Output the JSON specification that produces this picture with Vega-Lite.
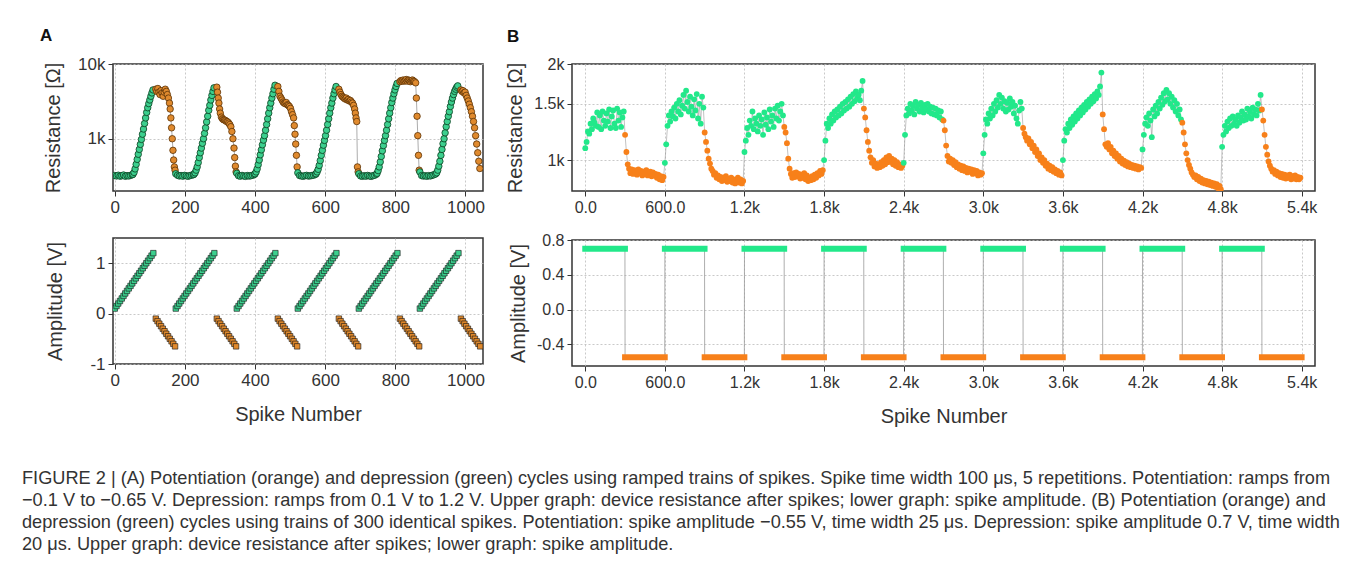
{
"$schema":"https://vega.github.io/schema/vega-lite/v6.json",
"background":"white",
"padding":{"left":22,"top":26,"right":10,"bottom":10},
"config":{
 "font":"Liberation Sans",
 "view":{"stroke":"#333","strokeWidth":1.5},
 "axis":{"labelFont":"Liberation Sans","labelFontSize":17,"labelColor":"#333","titleFont":"Liberation Sans","titleFontSize":20,"titleFontWeight":"normal","titleColor":"#333","domain":false,"tickColor":"#333","tickSize":5,"gridColor":"#bbb","gridDash":[2,2],"gridWidth":0.8,"labelPadding":3,"labelFlush":false}
},
"title":{"text":["FIGURE 2 | (A) Potentiation (orange) and depression (green) cycles using ramped trains of spikes. Spike time width 100 μs, 5 repetitions. Potentiation: ramps from","−0.1 V to −0.65 V. Depression: ramps from 0.1 V to 1.2 V. Upper graph: device resistance after spikes; lower graph: spike amplitude. (B) Potentiation (orange) and","depression (green) cycles using trains of 300 identical spikes. Potentiation: spike amplitude −0.55 V, time width 25 μs. Depression: spike amplitude 0.7 V, time width","20 μs. Upper graph: device resistance after spikes; lower graph: spike amplitude."],"orient":"bottom","anchor":"start","frame":"group","dx":-91,"offset":43,"fontSize":18.2,"fontWeight":"normal","font":"Liberation Sans","color":"#333","lineHeight":22},
"datasets":{
"aR":[
{"n":0,"r":322,"t":"d"},{"n":5,"r":318,"t":"d"},{"n":10,"r":325,"t":"d"},{"n":15,"r":316,"t":"d"},{"n":20,"r":320,"t":"d"},{"n":25,"r":327,"t":"d"},{"n":30,"r":315,"t":"d"},{"n":35,"r":321,"t":"d"},{"n":40,"r":318,"t":"d"},{"n":45,"r":324,"t":"d"},{"n":50,"r":330,"t":"d"},
{"n":52,"r":335,"t":"d"},{"n":55,"r":355,"t":"d"},{"n":58,"r":395,"t":"d"},{"n":61,"r":455,"t":"d"},{"n":64,"r":530,"t":"d"},{"n":67,"r":620,"t":"d"},{"n":70,"r":720,"t":"d"},{"n":73,"r":840,"t":"d"},{"n":76,"r":980,"t":"d"},{"n":79,"r":1150,"t":"d"},{"n":82,"r":1350,"t":"d"},{"n":85,"r":1600,"t":"d"},{"n":88,"r":1900,"t":"d"},{"n":91,"r":2250,"t":"d"},{"n":94,"r":2600,"t":"d"},{"n":97,"r":2950,"t":"d"},{"n":100,"r":3300,"t":"d"},{"n":103,"r":3700,"t":"d"},{"n":106,"r":4100,"t":"d"},{"n":109,"r":4500,"t":"d"},
{"n":117,"r":4600,"t":"p"},{"n":120,"r":4300,"t":"p"},{"n":123,"r":4700,"t":"p"},{"n":126,"r":4200,"t":"p"},{"n":129,"r":3900,"t":"p"},{"n":132,"r":4400,"t":"p"},{"n":135,"r":4100,"t":"p"},{"n":138,"r":3700,"t":"p"},{"n":141,"r":4200,"t":"p"},{"n":144,"r":4600,"t":"p"},{"n":147,"r":4300,"t":"p"},{"n":150,"r":3900,"t":"p"},{"n":153,"r":3500,"t":"p"},{"n":156,"r":3000,"t":"p"},{"n":158,"r":2500,"t":"p"},{"n":160,"r":1900,"t":"p"},{"n":162,"r":1400,"t":"p"},{"n":164,"r":1000,"t":"p"},{"n":166,"r":700,"t":"p"},{"n":168,"r":520,"t":"p"},{"n":170,"r":420,"t":"p"},{"n":172,"r":380,"t":"p"},
{"n":174,"r":340,"t":"d"},{"n":179,"r":325,"t":"d"},{"n":184,"r":318,"t":"d"},{"n":189,"r":322,"t":"d"},{"n":194,"r":316,"t":"d"},{"n":199,"r":324,"t":"d"},{"n":204,"r":319,"t":"d"},{"n":209,"r":315,"t":"d"},{"n":214,"r":321,"t":"d"},{"n":219,"r":326,"t":"d"},{"n":224,"r":330,"t":"d"},
{"n":226,"r":335,"t":"d"},{"n":229,"r":350,"t":"d"},{"n":232,"r":380,"t":"d"},{"n":235,"r":420,"t":"d"},{"n":238,"r":480,"t":"d"},{"n":241,"r":560,"t":"d"},{"n":244,"r":650,"t":"d"},{"n":247,"r":750,"t":"d"},{"n":250,"r":870,"t":"d"},{"n":253,"r":1000,"t":"d"},{"n":256,"r":1180,"t":"d"},{"n":259,"r":1400,"t":"d"},{"n":262,"r":1680,"t":"d"},{"n":265,"r":2000,"t":"d"},{"n":268,"r":2400,"t":"d"},{"n":271,"r":2800,"t":"d"},{"n":274,"r":3300,"t":"d"},{"n":277,"r":3800,"t":"d"},{"n":280,"r":4300,"t":"d"},{"n":283,"r":4800,"t":"d"},
{"n":291,"r":4900,"t":"p"},{"n":293,"r":4200,"t":"p"},{"n":295,"r":3500,"t":"p"},{"n":297,"r":3000,"t":"p"},{"n":299,"r":2500,"t":"p"},{"n":301,"r":2200,"t":"p"},{"n":304,"r":1950,"t":"p"},{"n":307,"r":1850,"t":"p"},{"n":310,"r":1800,"t":"p"},{"n":313,"r":1780,"t":"p"},{"n":316,"r":1750,"t":"p"},{"n":319,"r":1700,"t":"p"},{"n":322,"r":1680,"t":"p"},{"n":325,"r":1620,"t":"p"},{"n":328,"r":1550,"t":"p"},{"n":331,"r":1450,"t":"p"},{"n":334,"r":1250,"t":"p"},{"n":337,"r":1000,"t":"p"},{"n":340,"r":750,"t":"p"},{"n":342,"r":560,"t":"p"},{"n":344,"r":430,"t":"p"},{"n":346,"r":360,"t":"p"},
{"n":348,"r":345,"t":"d"},{"n":353,"r":320,"t":"d"},{"n":358,"r":316,"t":"d"},{"n":363,"r":323,"t":"d"},{"n":368,"r":318,"t":"d"},{"n":373,"r":314,"t":"d"},{"n":378,"r":322,"t":"d"},{"n":383,"r":317,"t":"d"},{"n":388,"r":320,"t":"d"},{"n":393,"r":325,"t":"d"},{"n":398,"r":332,"t":"d"},
{"n":400,"r":340,"t":"d"},{"n":403,"r":360,"t":"d"},{"n":406,"r":395,"t":"d"},{"n":409,"r":450,"t":"d"},{"n":412,"r":520,"t":"d"},{"n":415,"r":610,"t":"d"},{"n":418,"r":710,"t":"d"},{"n":421,"r":830,"t":"d"},{"n":424,"r":960,"t":"d"},{"n":427,"r":1100,"t":"d"},{"n":430,"r":1300,"t":"d"},{"n":433,"r":1550,"t":"d"},{"n":436,"r":1850,"t":"d"},{"n":439,"r":2200,"t":"d"},{"n":442,"r":2600,"t":"d"},{"n":445,"r":3000,"t":"d"},{"n":448,"r":3500,"t":"d"},{"n":451,"r":4000,"t":"d"},{"n":454,"r":4600,"t":"d"},{"n":457,"r":5200,"t":"d"},
{"n":465,"r":5000,"t":"p"},{"n":468,"r":4300,"t":"p"},{"n":471,"r":3700,"t":"p"},{"n":474,"r":3500,"t":"p"},{"n":477,"r":3300,"t":"p"},{"n":480,"r":3100,"t":"p"},{"n":483,"r":3000,"t":"p"},{"n":486,"r":2950,"t":"p"},{"n":489,"r":3050,"t":"p"},{"n":492,"r":2850,"t":"p"},{"n":495,"r":2800,"t":"p"},{"n":498,"r":2700,"t":"p"},{"n":501,"r":2550,"t":"p"},{"n":504,"r":2300,"t":"p"},{"n":507,"r":2100,"t":"p"},{"n":510,"r":1900,"t":"p"},{"n":512,"r":1500,"t":"p"},{"n":514,"r":1150,"t":"p"},{"n":516,"r":850,"t":"p"},{"n":518,"r":600,"t":"p"},{"n":520,"r":420,"t":"p"},
{"n":522,"r":350,"t":"d"},{"n":527,"r":322,"t":"d"},{"n":532,"r":318,"t":"d"},{"n":537,"r":315,"t":"d"},{"n":542,"r":320,"t":"d"},{"n":547,"r":324,"t":"d"},{"n":552,"r":317,"t":"d"},{"n":557,"r":319,"t":"d"},{"n":562,"r":322,"t":"d"},{"n":567,"r":326,"t":"d"},{"n":572,"r":333,"t":"d"},
{"n":574,"r":340,"t":"d"},{"n":577,"r":360,"t":"d"},{"n":580,"r":390,"t":"d"},{"n":583,"r":440,"t":"d"},{"n":586,"r":510,"t":"d"},{"n":589,"r":600,"t":"d"},{"n":592,"r":700,"t":"d"},{"n":595,"r":820,"t":"d"},{"n":598,"r":950,"t":"d"},{"n":601,"r":1100,"t":"d"},{"n":604,"r":1300,"t":"d"},{"n":607,"r":1550,"t":"d"},{"n":610,"r":1850,"t":"d"},{"n":613,"r":2200,"t":"d"},{"n":616,"r":2600,"t":"d"},{"n":619,"r":3000,"t":"d"},{"n":622,"r":3500,"t":"d"},{"n":625,"r":4000,"t":"d"},{"n":628,"r":4500,"t":"d"},{"n":631,"r":5000,"t":"d"},
{"n":639,"r":4600,"t":"p"},{"n":642,"r":4200,"t":"p"},{"n":645,"r":3900,"t":"p"},{"n":648,"r":3700,"t":"p"},{"n":651,"r":3600,"t":"p"},{"n":654,"r":3500,"t":"p"},{"n":657,"r":3400,"t":"p"},{"n":660,"r":3500,"t":"p"},{"n":663,"r":3300,"t":"p"},{"n":666,"r":3350,"t":"p"},{"n":669,"r":3200,"t":"p"},{"n":672,"r":3250,"t":"p"},{"n":675,"r":3100,"t":"p"},{"n":678,"r":3000,"t":"p"},{"n":681,"r":2800,"t":"p"},{"n":684,"r":2500,"t":"p"},{"n":686,"r":2200,"t":"p"},{"n":688,"r":1900,"t":"p"},{"n":690,"r":1700,"t":"p"},{"n":692,"r":420,"t":"p"},{"n":694,"r":360,"t":"p"},
{"n":696,"r":340,"t":"d"},{"n":701,"r":318,"t":"d"},{"n":706,"r":315,"t":"d"},{"n":711,"r":320,"t":"d"},{"n":716,"r":316,"t":"d"},{"n":721,"r":323,"t":"d"},{"n":726,"r":318,"t":"d"},{"n":731,"r":314,"t":"d"},{"n":736,"r":320,"t":"d"},{"n":741,"r":325,"t":"d"},{"n":746,"r":335,"t":"d"},
{"n":748,"r":345,"t":"d"},{"n":751,"r":375,"t":"d"},{"n":754,"r":420,"t":"d"},{"n":757,"r":490,"t":"d"},{"n":760,"r":580,"t":"d"},{"n":763,"r":690,"t":"d"},{"n":766,"r":810,"t":"d"},{"n":769,"r":950,"t":"d"},{"n":772,"r":1100,"t":"d"},{"n":775,"r":1300,"t":"d"},{"n":778,"r":1550,"t":"d"},{"n":781,"r":1850,"t":"d"},{"n":784,"r":2200,"t":"d"},{"n":787,"r":2600,"t":"d"},{"n":790,"r":3050,"t":"d"},{"n":793,"r":3500,"t":"d"},{"n":796,"r":4000,"t":"d"},{"n":799,"r":4500,"t":"d"},{"n":802,"r":5000,"t":"d"},{"n":805,"r":5500,"t":"d"},
{"n":813,"r":5800,"t":"p"},{"n":816,"r":6000,"t":"p"},{"n":819,"r":5900,"t":"p"},{"n":822,"r":6100,"t":"p"},{"n":825,"r":5900,"t":"p"},{"n":828,"r":6000,"t":"p"},{"n":831,"r":6200,"t":"p"},{"n":834,"r":5900,"t":"p"},{"n":837,"r":6100,"t":"p"},{"n":840,"r":6000,"t":"p"},{"n":843,"r":5800,"t":"p"},{"n":846,"r":6000,"t":"p"},{"n":849,"r":6100,"t":"p"},{"n":852,"r":5900,"t":"p"},{"n":855,"r":5800,"t":"p"},{"n":858,"r":5600,"t":"p"},{"n":860,"r":3500,"t":"p"},{"n":862,"r":2000,"t":"p"},{"n":864,"r":1100,"t":"p"},{"n":866,"r":600,"t":"p"},{"n":868,"r":380,"t":"p"},
{"n":870,"r":360,"t":"d"},{"n":875,"r":322,"t":"d"},{"n":880,"r":317,"t":"d"},{"n":885,"r":320,"t":"d"},{"n":890,"r":315,"t":"d"},{"n":895,"r":321,"t":"d"},{"n":900,"r":318,"t":"d"},{"n":905,"r":324,"t":"d"},{"n":910,"r":330,"t":"d"},{"n":915,"r":338,"t":"d"},
{"n":918,"r":350,"t":"d"},{"n":921,"r":380,"t":"d"},{"n":924,"r":430,"t":"d"},{"n":927,"r":500,"t":"d"},{"n":930,"r":600,"t":"d"},{"n":933,"r":720,"t":"d"},{"n":936,"r":860,"t":"d"},{"n":939,"r":1000,"t":"d"},{"n":942,"r":1200,"t":"d"},{"n":945,"r":1450,"t":"d"},{"n":948,"r":1700,"t":"d"},{"n":951,"r":2000,"t":"d"},{"n":954,"r":2300,"t":"d"},{"n":957,"r":2700,"t":"d"},{"n":960,"r":3100,"t":"d"},{"n":963,"r":3500,"t":"d"},{"n":966,"r":3900,"t":"d"},{"n":969,"r":4300,"t":"d"},{"n":972,"r":4600,"t":"d"},{"n":975,"r":4900,"t":"d"},{"n":978,"r":5100,"t":"d"},
{"n":987,"r":4500,"t":"p"},{"n":990,"r":4300,"t":"p"},{"n":993,"r":4400,"t":"p"},{"n":996,"r":4100,"t":"p"},{"n":999,"r":4200,"t":"p"},{"n":1002,"r":3800,"t":"p"},{"n":1005,"r":3500,"t":"p"},{"n":1008,"r":3200,"t":"p"},{"n":1011,"r":2900,"t":"p"},{"n":1014,"r":2600,"t":"p"},{"n":1017,"r":2300,"t":"p"},{"n":1020,"r":2000,"t":"p"},{"n":1023,"r":1700,"t":"p"},{"n":1026,"r":1400,"t":"p"},{"n":1029,"r":1100,"t":"p"},{"n":1032,"r":850,"t":"p"},{"n":1035,"r":650,"t":"p"},{"n":1038,"r":500,"t":"p"},{"n":1041,"r":400,"t":"p"}
],
"aV":[
{"n":0,"v":0.1,"t":"d"},{"n":5,"v":0.15,"t":"d"},{"n":10,"v":0.2,"t":"d"},{"n":15,"v":0.25,"t":"d"},{"n":20,"v":0.3,"t":"d"},{"n":25,"v":0.35,"t":"d"},{"n":30,"v":0.4,"t":"d"},{"n":35,"v":0.45,"t":"d"},{"n":40,"v":0.5,"t":"d"},{"n":45,"v":0.55,"t":"d"},{"n":50,"v":0.6,"t":"d"},{"n":55,"v":0.65,"t":"d"},{"n":60,"v":0.7,"t":"d"},{"n":65,"v":0.75,"t":"d"},{"n":70,"v":0.8,"t":"d"},{"n":75,"v":0.85,"t":"d"},{"n":80,"v":0.9,"t":"d"},{"n":85,"v":0.95,"t":"d"},{"n":90,"v":1.0,"t":"d"},{"n":95,"v":1.05,"t":"d"},{"n":100,"v":1.1,"t":"d"},{"n":105,"v":1.15,"t":"d"},{"n":110,"v":1.2,"t":"d"},
{"n":117,"v":-0.1,"t":"p"},{"n":122,"v":-0.15,"t":"p"},{"n":127,"v":-0.2,"t":"p"},{"n":132,"v":-0.25,"t":"p"},{"n":137,"v":-0.3,"t":"p"},{"n":142,"v":-0.35,"t":"p"},{"n":147,"v":-0.4,"t":"p"},{"n":152,"v":-0.45,"t":"p"},{"n":157,"v":-0.5,"t":"p"},{"n":162,"v":-0.55,"t":"p"},{"n":167,"v":-0.6,"t":"p"},{"n":172,"v":-0.65,"t":"p"},
{"n":174,"v":0.1,"t":"d"},{"n":179,"v":0.15,"t":"d"},{"n":184,"v":0.2,"t":"d"},{"n":189,"v":0.25,"t":"d"},{"n":194,"v":0.3,"t":"d"},{"n":199,"v":0.35,"t":"d"},{"n":204,"v":0.4,"t":"d"},{"n":209,"v":0.45,"t":"d"},{"n":214,"v":0.5,"t":"d"},{"n":219,"v":0.55,"t":"d"},{"n":224,"v":0.6,"t":"d"},{"n":229,"v":0.65,"t":"d"},{"n":234,"v":0.7,"t":"d"},{"n":239,"v":0.75,"t":"d"},{"n":244,"v":0.8,"t":"d"},{"n":249,"v":0.85,"t":"d"},{"n":254,"v":0.9,"t":"d"},{"n":259,"v":0.95,"t":"d"},{"n":264,"v":1.0,"t":"d"},{"n":269,"v":1.05,"t":"d"},{"n":274,"v":1.1,"t":"d"},{"n":279,"v":1.15,"t":"d"},{"n":284,"v":1.2,"t":"d"},
{"n":291,"v":-0.1,"t":"p"},{"n":296,"v":-0.15,"t":"p"},{"n":301,"v":-0.2,"t":"p"},{"n":306,"v":-0.25,"t":"p"},{"n":311,"v":-0.3,"t":"p"},{"n":316,"v":-0.35,"t":"p"},{"n":321,"v":-0.4,"t":"p"},{"n":326,"v":-0.45,"t":"p"},{"n":331,"v":-0.5,"t":"p"},{"n":336,"v":-0.55,"t":"p"},{"n":341,"v":-0.6,"t":"p"},{"n":346,"v":-0.65,"t":"p"},
{"n":348,"v":0.1,"t":"d"},{"n":353,"v":0.15,"t":"d"},{"n":358,"v":0.2,"t":"d"},{"n":363,"v":0.25,"t":"d"},{"n":368,"v":0.3,"t":"d"},{"n":373,"v":0.35,"t":"d"},{"n":378,"v":0.4,"t":"d"},{"n":383,"v":0.45,"t":"d"},{"n":388,"v":0.5,"t":"d"},{"n":393,"v":0.55,"t":"d"},{"n":398,"v":0.6,"t":"d"},{"n":403,"v":0.65,"t":"d"},{"n":408,"v":0.7,"t":"d"},{"n":413,"v":0.75,"t":"d"},{"n":418,"v":0.8,"t":"d"},{"n":423,"v":0.85,"t":"d"},{"n":428,"v":0.9,"t":"d"},{"n":433,"v":0.95,"t":"d"},{"n":438,"v":1.0,"t":"d"},{"n":443,"v":1.05,"t":"d"},{"n":448,"v":1.1,"t":"d"},{"n":453,"v":1.15,"t":"d"},{"n":458,"v":1.2,"t":"d"},
{"n":465,"v":-0.1,"t":"p"},{"n":470,"v":-0.15,"t":"p"},{"n":475,"v":-0.2,"t":"p"},{"n":480,"v":-0.25,"t":"p"},{"n":485,"v":-0.3,"t":"p"},{"n":490,"v":-0.35,"t":"p"},{"n":495,"v":-0.4,"t":"p"},{"n":500,"v":-0.45,"t":"p"},{"n":505,"v":-0.5,"t":"p"},{"n":510,"v":-0.55,"t":"p"},{"n":515,"v":-0.6,"t":"p"},{"n":520,"v":-0.65,"t":"p"},
{"n":522,"v":0.1,"t":"d"},{"n":527,"v":0.15,"t":"d"},{"n":532,"v":0.2,"t":"d"},{"n":537,"v":0.25,"t":"d"},{"n":542,"v":0.3,"t":"d"},{"n":547,"v":0.35,"t":"d"},{"n":552,"v":0.4,"t":"d"},{"n":557,"v":0.45,"t":"d"},{"n":562,"v":0.5,"t":"d"},{"n":567,"v":0.55,"t":"d"},{"n":572,"v":0.6,"t":"d"},{"n":577,"v":0.65,"t":"d"},{"n":582,"v":0.7,"t":"d"},{"n":587,"v":0.75,"t":"d"},{"n":592,"v":0.8,"t":"d"},{"n":597,"v":0.85,"t":"d"},{"n":602,"v":0.9,"t":"d"},{"n":607,"v":0.95,"t":"d"},{"n":612,"v":1.0,"t":"d"},{"n":617,"v":1.05,"t":"d"},{"n":622,"v":1.1,"t":"d"},{"n":627,"v":1.15,"t":"d"},{"n":632,"v":1.2,"t":"d"},
{"n":639,"v":-0.1,"t":"p"},{"n":644,"v":-0.15,"t":"p"},{"n":649,"v":-0.2,"t":"p"},{"n":654,"v":-0.25,"t":"p"},{"n":659,"v":-0.3,"t":"p"},{"n":664,"v":-0.35,"t":"p"},{"n":669,"v":-0.4,"t":"p"},{"n":674,"v":-0.45,"t":"p"},{"n":679,"v":-0.5,"t":"p"},{"n":684,"v":-0.55,"t":"p"},{"n":689,"v":-0.6,"t":"p"},{"n":694,"v":-0.65,"t":"p"},
{"n":696,"v":0.1,"t":"d"},{"n":701,"v":0.15,"t":"d"},{"n":706,"v":0.2,"t":"d"},{"n":711,"v":0.25,"t":"d"},{"n":716,"v":0.3,"t":"d"},{"n":721,"v":0.35,"t":"d"},{"n":726,"v":0.4,"t":"d"},{"n":731,"v":0.45,"t":"d"},{"n":736,"v":0.5,"t":"d"},{"n":741,"v":0.55,"t":"d"},{"n":746,"v":0.6,"t":"d"},{"n":751,"v":0.65,"t":"d"},{"n":756,"v":0.7,"t":"d"},{"n":761,"v":0.75,"t":"d"},{"n":766,"v":0.8,"t":"d"},{"n":771,"v":0.85,"t":"d"},{"n":776,"v":0.9,"t":"d"},{"n":781,"v":0.95,"t":"d"},{"n":786,"v":1.0,"t":"d"},{"n":791,"v":1.05,"t":"d"},{"n":796,"v":1.1,"t":"d"},{"n":801,"v":1.15,"t":"d"},{"n":806,"v":1.2,"t":"d"},
{"n":813,"v":-0.1,"t":"p"},{"n":818,"v":-0.15,"t":"p"},{"n":823,"v":-0.2,"t":"p"},{"n":828,"v":-0.25,"t":"p"},{"n":833,"v":-0.3,"t":"p"},{"n":838,"v":-0.35,"t":"p"},{"n":843,"v":-0.4,"t":"p"},{"n":848,"v":-0.45,"t":"p"},{"n":853,"v":-0.5,"t":"p"},{"n":858,"v":-0.55,"t":"p"},{"n":863,"v":-0.6,"t":"p"},{"n":868,"v":-0.65,"t":"p"},
{"n":870,"v":0.1,"t":"d"},{"n":875,"v":0.15,"t":"d"},{"n":880,"v":0.2,"t":"d"},{"n":885,"v":0.25,"t":"d"},{"n":890,"v":0.3,"t":"d"},{"n":895,"v":0.35,"t":"d"},{"n":900,"v":0.4,"t":"d"},{"n":905,"v":0.45,"t":"d"},{"n":910,"v":0.5,"t":"d"},{"n":915,"v":0.55,"t":"d"},{"n":920,"v":0.6,"t":"d"},{"n":925,"v":0.65,"t":"d"},{"n":930,"v":0.7,"t":"d"},{"n":935,"v":0.75,"t":"d"},{"n":940,"v":0.8,"t":"d"},{"n":945,"v":0.85,"t":"d"},{"n":950,"v":0.9,"t":"d"},{"n":955,"v":0.95,"t":"d"},{"n":960,"v":1.0,"t":"d"},{"n":965,"v":1.05,"t":"d"},{"n":970,"v":1.1,"t":"d"},{"n":975,"v":1.15,"t":"d"},{"n":980,"v":1.2,"t":"d"},
{"n":987,"v":-0.1,"t":"p"},{"n":992,"v":-0.15,"t":"p"},{"n":997,"v":-0.2,"t":"p"},{"n":1002,"v":-0.25,"t":"p"},{"n":1007,"v":-0.3,"t":"p"},{"n":1012,"v":-0.35,"t":"p"},{"n":1017,"v":-0.4,"t":"p"},{"n":1022,"v":-0.45,"t":"p"},{"n":1027,"v":-0.5,"t":"p"},{"n":1032,"v":-0.55,"t":"p"},{"n":1037,"v":-0.6,"t":"p"},{"n":1042,"v":-0.65,"t":"p"}
],
"bR":[
{"n":0,"r":1090,"t":"d"},{"n":10,"r":1140,"t":"d"},{"n":20,"r":1230,"t":"d"},{"n":30,"r":1210,"t":"d"},{"n":40,"r":1300,"t":"d"},{"n":50,"r":1250,"t":"d"},{"n":60,"r":1350,"t":"d"},{"n":70,"r":1310,"t":"d"},{"n":80,"r":1280,"t":"d"},{"n":90,"r":1410,"t":"d"},{"n":100,"r":1270,"t":"d"},{"n":110,"r":1380,"t":"d"},{"n":120,"r":1250,"t":"d"},{"n":130,"r":1420,"t":"d"},{"n":140,"r":1330,"t":"d"},{"n":150,"r":1280,"t":"d"},{"n":160,"r":1400,"t":"d"},{"n":170,"r":1320,"t":"d"},{"n":180,"r":1440,"t":"d"},{"n":190,"r":1260,"t":"d"},{"n":200,"r":1370,"t":"d"},{"n":210,"r":1430,"t":"d"},{"n":220,"r":1300,"t":"d"},{"n":230,"r":1260,"t":"d"},{"n":240,"r":1450,"t":"d"},{"n":250,"r":1330,"t":"d"},{"n":260,"r":1410,"t":"d"},{"n":270,"r":1270,"t":"d"},{"n":280,"r":1360,"t":"d"},{"n":290,"r":1420,"t":"d"},
{"n":300,"r":1200,"t":"p"},{"n":310,"r":1060,"t":"p"},{"n":320,"r":970,"t":"p"},{"n":330,"r":940,"t":"p"},{"n":340,"r":910,"t":"p"},{"n":350,"r":935,"t":"p"},{"n":360,"r":905,"t":"p"},{"n":370,"r":930,"t":"p"},{"n":380,"r":915,"t":"p"},{"n":390,"r":900,"t":"p"},{"n":400,"r":935,"t":"p"},{"n":410,"r":910,"t":"p"},{"n":420,"r":925,"t":"p"},{"n":430,"r":895,"t":"p"},{"n":440,"r":920,"t":"p"},{"n":450,"r":905,"t":"p"},{"n":460,"r":930,"t":"p"},{"n":470,"r":895,"t":"p"},{"n":480,"r":910,"t":"p"},{"n":490,"r":920,"t":"p"},{"n":500,"r":890,"t":"p"},{"n":510,"r":915,"t":"p"},{"n":520,"r":895,"t":"p"},{"n":530,"r":905,"t":"p"},{"n":540,"r":880,"t":"p"},{"n":550,"r":900,"t":"p"},{"n":560,"r":870,"t":"p"},{"n":570,"r":890,"t":"p"},{"n":580,"r":865,"t":"p"},{"n":590,"r":885,"t":"p"},
{"n":600,"r":980,"t":"d"},{"n":610,"r":1120,"t":"d"},{"n":620,"r":1280,"t":"d"},{"n":630,"r":1380,"t":"d"},{"n":640,"r":1320,"t":"d"},{"n":650,"r":1420,"t":"d"},{"n":660,"r":1370,"t":"d"},{"n":670,"r":1460,"t":"d"},{"n":680,"r":1350,"t":"d"},{"n":690,"r":1500,"t":"d"},{"n":700,"r":1420,"t":"d"},{"n":710,"r":1540,"t":"d"},{"n":720,"r":1390,"t":"d"},{"n":730,"r":1480,"t":"d"},{"n":740,"r":1600,"t":"d"},{"n":750,"r":1450,"t":"d"},{"n":760,"r":1650,"t":"d"},{"n":770,"r":1520,"t":"d"},{"n":780,"r":1420,"t":"d"},{"n":790,"r":1580,"t":"d"},{"n":800,"r":1470,"t":"d"},{"n":810,"r":1380,"t":"d"},{"n":820,"r":1550,"t":"d"},{"n":830,"r":1430,"t":"d"},{"n":840,"r":1610,"t":"d"},{"n":850,"r":1350,"t":"d"},{"n":860,"r":1500,"t":"d"},{"n":870,"r":1300,"t":"d"},{"n":880,"r":1580,"t":"d"},{"n":890,"r":1460,"t":"d"},
{"n":900,"r":1220,"t":"p"},{"n":910,"r":1140,"t":"p"},{"n":920,"r":1070,"t":"p"},{"n":930,"r":1010,"t":"p"},{"n":940,"r":975,"t":"p"},{"n":950,"r":940,"t":"p"},{"n":960,"r":925,"t":"p"},{"n":970,"r":900,"t":"p"},{"n":980,"r":910,"t":"p"},{"n":990,"r":880,"t":"p"},{"n":1000,"r":895,"t":"p"},{"n":1010,"r":870,"t":"p"},{"n":1020,"r":885,"t":"p"},{"n":1030,"r":860,"t":"p"},{"n":1040,"r":880,"t":"p"},{"n":1050,"r":865,"t":"p"},{"n":1060,"r":890,"t":"p"},{"n":1070,"r":855,"t":"p"},{"n":1080,"r":875,"t":"p"},{"n":1090,"r":860,"t":"p"},{"n":1100,"r":880,"t":"p"},{"n":1110,"r":850,"t":"p"},{"n":1120,"r":870,"t":"p"},{"n":1130,"r":845,"t":"p"},{"n":1140,"r":865,"t":"p"},{"n":1150,"r":880,"t":"p"},{"n":1160,"r":850,"t":"p"},{"n":1170,"r":870,"t":"p"},{"n":1180,"r":845,"t":"p"},{"n":1190,"r":860,"t":"p"},
{"n":1200,"r":1060,"t":"d"},{"n":1210,"r":1150,"t":"d"},{"n":1220,"r":1260,"t":"d"},{"n":1230,"r":1200,"t":"d"},{"n":1240,"r":1330,"t":"d"},{"n":1250,"r":1280,"t":"d"},{"n":1260,"r":1420,"t":"d"},{"n":1270,"r":1250,"t":"d"},{"n":1280,"r":1350,"t":"d"},{"n":1290,"r":1300,"t":"d"},{"n":1300,"r":1230,"t":"d"},{"n":1310,"r":1380,"t":"d"},{"n":1320,"r":1280,"t":"d"},{"n":1330,"r":1340,"t":"d"},{"n":1340,"r":1200,"t":"d"},{"n":1350,"r":1410,"t":"d"},{"n":1360,"r":1290,"t":"d"},{"n":1370,"r":1360,"t":"d"},{"n":1380,"r":1250,"t":"d"},{"n":1390,"r":1440,"t":"d"},{"n":1400,"r":1320,"t":"d"},{"n":1410,"r":1380,"t":"d"},{"n":1420,"r":1270,"t":"d"},{"n":1430,"r":1450,"t":"d"},{"n":1440,"r":1350,"t":"d"},{"n":1450,"r":1480,"t":"d"},{"n":1460,"r":1330,"t":"d"},{"n":1470,"r":1420,"t":"d"},{"n":1480,"r":1500,"t":"d"},{"n":1490,"r":1380,"t":"d"},
{"n":1500,"r":1270,"t":"p"},{"n":1510,"r":1220,"t":"p"},{"n":1520,"r":1130,"t":"p"},{"n":1530,"r":1010,"t":"p"},{"n":1540,"r":940,"t":"p"},{"n":1550,"r":905,"t":"p"},{"n":1560,"r":880,"t":"p"},{"n":1570,"r":910,"t":"p"},{"n":1580,"r":885,"t":"p"},{"n":1590,"r":915,"t":"p"},{"n":1600,"r":890,"t":"p"},{"n":1610,"r":905,"t":"p"},{"n":1620,"r":875,"t":"p"},{"n":1630,"r":900,"t":"p"},{"n":1640,"r":880,"t":"p"},{"n":1650,"r":910,"t":"p"},{"n":1660,"r":870,"t":"p"},{"n":1670,"r":895,"t":"p"},{"n":1680,"r":860,"t":"p"},{"n":1690,"r":880,"t":"p"},{"n":1700,"r":865,"t":"p"},{"n":1710,"r":890,"t":"p"},{"n":1720,"r":870,"t":"p"},{"n":1730,"r":900,"t":"p"},{"n":1740,"r":880,"t":"p"},{"n":1750,"r":910,"t":"p"},{"n":1760,"r":895,"t":"p"},{"n":1770,"r":925,"t":"p"},{"n":1780,"r":905,"t":"p"},{"n":1790,"r":930,"t":"p"},
{"n":1800,"r":1000,"t":"d"},{"n":1810,"r":1150,"t":"d"},{"n":1820,"r":1300,"t":"d"},{"n":1830,"r":1260,"t":"d"},{"n":1840,"r":1350,"t":"d"},{"n":1850,"r":1300,"t":"d"},{"n":1860,"r":1390,"t":"d"},{"n":1870,"r":1330,"t":"d"},{"n":1880,"r":1420,"t":"d"},{"n":1890,"r":1360,"t":"d"},{"n":1900,"r":1440,"t":"d"},{"n":1910,"r":1380,"t":"d"},{"n":1920,"r":1470,"t":"d"},{"n":1930,"r":1400,"t":"d"},{"n":1940,"r":1500,"t":"d"},{"n":1950,"r":1430,"t":"d"},{"n":1960,"r":1520,"t":"d"},{"n":1970,"r":1450,"t":"d"},{"n":1980,"r":1550,"t":"d"},{"n":1990,"r":1470,"t":"d"},{"n":2000,"r":1580,"t":"d"},{"n":2010,"r":1500,"t":"d"},{"n":2020,"r":1610,"t":"d"},{"n":2030,"r":1530,"t":"d"},{"n":2040,"r":1640,"t":"d"},{"n":2050,"r":1560,"t":"d"},{"n":2060,"r":1600,"t":"d"},{"n":2070,"r":1540,"t":"d"},{"n":2080,"r":1650,"t":"d"},{"n":2090,"r":1770,"t":"d"},
{"n":2100,"r":1450,"t":"p"},{"n":2110,"r":1360,"t":"p"},{"n":2120,"r":1240,"t":"p"},{"n":2130,"r":1140,"t":"p"},{"n":2140,"r":1070,"t":"p"},{"n":2150,"r":1020,"t":"p"},{"n":2160,"r":980,"t":"p"},{"n":2170,"r":1000,"t":"p"},{"n":2180,"r":955,"t":"p"},{"n":2190,"r":975,"t":"p"},{"n":2200,"r":945,"t":"p"},{"n":2210,"r":970,"t":"p"},{"n":2220,"r":950,"t":"p"},{"n":2230,"r":985,"t":"p"},{"n":2240,"r":960,"t":"p"},{"n":2250,"r":1000,"t":"p"},{"n":2260,"r":970,"t":"p"},{"n":2270,"r":1020,"t":"p"},{"n":2280,"r":985,"t":"p"},{"n":2290,"r":1030,"t":"p"},{"n":2300,"r":990,"t":"p"},{"n":2310,"r":1010,"t":"p"},{"n":2320,"r":970,"t":"p"},{"n":2330,"r":1000,"t":"p"},{"n":2340,"r":960,"t":"p"},{"n":2350,"r":985,"t":"p"},{"n":2360,"r":950,"t":"p"},{"n":2370,"r":970,"t":"p"},{"n":2380,"r":945,"t":"p"},{"n":2390,"r":960,"t":"p"},
{"n":2400,"r":980,"t":"d"},{"n":2410,"r":1200,"t":"d"},{"n":2420,"r":1380,"t":"d"},{"n":2430,"r":1450,"t":"d"},{"n":2440,"r":1400,"t":"d"},{"n":2450,"r":1500,"t":"d"},{"n":2460,"r":1430,"t":"d"},{"n":2470,"r":1480,"t":"d"},{"n":2480,"r":1390,"t":"d"},{"n":2490,"r":1520,"t":"d"},{"n":2500,"r":1450,"t":"d"},{"n":2510,"r":1490,"t":"d"},{"n":2520,"r":1420,"t":"d"},{"n":2530,"r":1510,"t":"d"},{"n":2540,"r":1460,"t":"d"},{"n":2550,"r":1410,"t":"d"},{"n":2560,"r":1490,"t":"d"},{"n":2570,"r":1440,"t":"d"},{"n":2580,"r":1500,"t":"d"},{"n":2590,"r":1420,"t":"d"},{"n":2600,"r":1470,"t":"d"},{"n":2610,"r":1400,"t":"d"},{"n":2620,"r":1460,"t":"d"},{"n":2630,"r":1390,"t":"d"},{"n":2640,"r":1450,"t":"d"},{"n":2650,"r":1380,"t":"d"},{"n":2660,"r":1430,"t":"d"},{"n":2670,"r":1360,"t":"d"},{"n":2680,"r":1420,"t":"d"},{"n":2690,"r":1340,"t":"d"},
{"n":2700,"r":1330,"t":"p"},{"n":2710,"r":1240,"t":"p"},{"n":2720,"r":1110,"t":"p"},{"n":2730,"r":1030,"t":"p"},{"n":2740,"r":990,"t":"p"},{"n":2750,"r":1010,"t":"p"},{"n":2760,"r":980,"t":"p"},{"n":2770,"r":1000,"t":"p"},{"n":2780,"r":965,"t":"p"},{"n":2790,"r":985,"t":"p"},{"n":2800,"r":950,"t":"p"},{"n":2810,"r":970,"t":"p"},{"n":2820,"r":940,"t":"p"},{"n":2830,"r":960,"t":"p"},{"n":2840,"r":930,"t":"p"},{"n":2850,"r":955,"t":"p"},{"n":2860,"r":925,"t":"p"},{"n":2870,"r":945,"t":"p"},{"n":2880,"r":915,"t":"p"},{"n":2890,"r":940,"t":"p"},{"n":2900,"r":920,"t":"p"},{"n":2910,"r":935,"t":"p"},{"n":2920,"r":905,"t":"p"},{"n":2930,"r":930,"t":"p"},{"n":2940,"r":910,"t":"p"},{"n":2950,"r":925,"t":"p"},{"n":2960,"r":895,"t":"p"},{"n":2970,"r":915,"t":"p"},{"n":2980,"r":900,"t":"p"},{"n":2990,"r":910,"t":"p"},
{"n":3000,"r":1050,"t":"d"},{"n":3010,"r":1200,"t":"d"},{"n":3020,"r":1340,"t":"d"},{"n":3030,"r":1300,"t":"d"},{"n":3040,"r":1400,"t":"d"},{"n":3050,"r":1350,"t":"d"},{"n":3060,"r":1450,"t":"d"},{"n":3070,"r":1380,"t":"d"},{"n":3080,"r":1500,"t":"d"},{"n":3090,"r":1420,"t":"d"},{"n":3100,"r":1540,"t":"d"},{"n":3110,"r":1460,"t":"d"},{"n":3120,"r":1600,"t":"d"},{"n":3130,"r":1500,"t":"d"},{"n":3140,"r":1570,"t":"d"},{"n":3150,"r":1450,"t":"d"},{"n":3160,"r":1530,"t":"d"},{"n":3170,"r":1420,"t":"d"},{"n":3180,"r":1510,"t":"d"},{"n":3190,"r":1440,"t":"d"},{"n":3200,"r":1560,"t":"d"},{"n":3210,"r":1470,"t":"d"},{"n":3220,"r":1520,"t":"d"},{"n":3230,"r":1400,"t":"d"},{"n":3240,"r":1480,"t":"d"},{"n":3250,"r":1350,"t":"d"},{"n":3260,"r":1300,"t":"d"},{"n":3270,"r":1430,"t":"d"},{"n":3280,"r":1520,"t":"d"},{"n":3290,"r":1450,"t":"d"},
{"n":3300,"r":1260,"t":"p"},{"n":3310,"r":1210,"t":"p"},{"n":3320,"r":1180,"t":"p"},{"n":3330,"r":1150,"t":"p"},{"n":3340,"r":1170,"t":"p"},{"n":3350,"r":1120,"t":"p"},{"n":3360,"r":1140,"t":"p"},{"n":3370,"r":1090,"t":"p"},{"n":3380,"r":1110,"t":"p"},{"n":3390,"r":1060,"t":"p"},{"n":3400,"r":1080,"t":"p"},{"n":3410,"r":1030,"t":"p"},{"n":3420,"r":1050,"t":"p"},{"n":3430,"r":1000,"t":"p"},{"n":3440,"r":1020,"t":"p"},{"n":3450,"r":980,"t":"p"},{"n":3460,"r":1000,"t":"p"},{"n":3470,"r":960,"t":"p"},{"n":3480,"r":975,"t":"p"},{"n":3490,"r":940,"t":"p"},{"n":3500,"r":960,"t":"p"},{"n":3510,"r":930,"t":"p"},{"n":3520,"r":950,"t":"p"},{"n":3530,"r":920,"t":"p"},{"n":3540,"r":935,"t":"p"},{"n":3550,"r":910,"t":"p"},{"n":3560,"r":925,"t":"p"},{"n":3570,"r":900,"t":"p"},{"n":3580,"r":915,"t":"p"},{"n":3590,"r":895,"t":"p"},
{"n":3600,"r":1000,"t":"d"},{"n":3610,"r":1150,"t":"d"},{"n":3620,"r":1250,"t":"d"},{"n":3630,"r":1220,"t":"d"},{"n":3640,"r":1300,"t":"d"},{"n":3650,"r":1260,"t":"d"},{"n":3660,"r":1340,"t":"d"},{"n":3670,"r":1290,"t":"d"},{"n":3680,"r":1370,"t":"d"},{"n":3690,"r":1320,"t":"d"},{"n":3700,"r":1400,"t":"d"},{"n":3710,"r":1350,"t":"d"},{"n":3720,"r":1430,"t":"d"},{"n":3730,"r":1380,"t":"d"},{"n":3740,"r":1460,"t":"d"},{"n":3750,"r":1410,"t":"d"},{"n":3760,"r":1490,"t":"d"},{"n":3770,"r":1440,"t":"d"},{"n":3780,"r":1520,"t":"d"},{"n":3790,"r":1470,"t":"d"},{"n":3800,"r":1550,"t":"d"},{"n":3810,"r":1500,"t":"d"},{"n":3820,"r":1580,"t":"d"},{"n":3830,"r":1530,"t":"d"},{"n":3840,"r":1610,"t":"d"},{"n":3850,"r":1560,"t":"d"},{"n":3860,"r":1640,"t":"d"},{"n":3870,"r":1600,"t":"d"},{"n":3880,"r":1700,"t":"d"},{"n":3890,"r":1880,"t":"d"},
{"n":3900,"r":1390,"t":"p"},{"n":3910,"r":1250,"t":"p"},{"n":3920,"r":1120,"t":"p"},{"n":3930,"r":1100,"t":"p"},{"n":3940,"r":1130,"t":"p"},{"n":3950,"r":1080,"t":"p"},{"n":3960,"r":1100,"t":"p"},{"n":3970,"r":1050,"t":"p"},{"n":3980,"r":1070,"t":"p"},{"n":3990,"r":1030,"t":"p"},{"n":4000,"r":1050,"t":"p"},{"n":4010,"r":1010,"t":"p"},{"n":4020,"r":1030,"t":"p"},{"n":4030,"r":990,"t":"p"},{"n":4040,"r":1010,"t":"p"},{"n":4050,"r":975,"t":"p"},{"n":4060,"r":995,"t":"p"},{"n":4070,"r":965,"t":"p"},{"n":4080,"r":985,"t":"p"},{"n":4090,"r":955,"t":"p"},{"n":4100,"r":975,"t":"p"},{"n":4110,"r":950,"t":"p"},{"n":4120,"r":965,"t":"p"},{"n":4130,"r":945,"t":"p"},{"n":4140,"r":960,"t":"p"},{"n":4150,"r":940,"t":"p"},{"n":4160,"r":955,"t":"p"},{"n":4170,"r":935,"t":"p"},{"n":4180,"r":950,"t":"p"},{"n":4190,"r":945,"t":"p"},
{"n":4200,"r":1080,"t":"d"},{"n":4210,"r":1200,"t":"d"},{"n":4220,"r":1300,"t":"d"},{"n":4230,"r":1360,"t":"d"},{"n":4240,"r":1280,"t":"d"},{"n":4250,"r":1400,"t":"d"},{"n":4260,"r":1330,"t":"d"},{"n":4270,"r":1180,"t":"d"},{"n":4280,"r":1440,"t":"d"},{"n":4290,"r":1370,"t":"d"},{"n":4300,"r":1480,"t":"d"},{"n":4310,"r":1400,"t":"d"},{"n":4320,"r":1520,"t":"d"},{"n":4330,"r":1450,"t":"d"},{"n":4340,"r":1570,"t":"d"},{"n":4350,"r":1490,"t":"d"},{"n":4360,"r":1620,"t":"d"},{"n":4370,"r":1530,"t":"d"},{"n":4380,"r":1660,"t":"d"},{"n":4390,"r":1550,"t":"d"},{"n":4400,"r":1620,"t":"d"},{"n":4410,"r":1500,"t":"d"},{"n":4420,"r":1580,"t":"d"},{"n":4430,"r":1460,"t":"d"},{"n":4440,"r":1540,"t":"d"},{"n":4450,"r":1420,"t":"d"},{"n":4460,"r":1500,"t":"d"},{"n":4470,"r":1380,"t":"d"},{"n":4480,"r":1440,"t":"d"},{"n":4490,"r":1340,"t":"d"},
{"n":4500,"r":1310,"t":"p"},{"n":4510,"r":1220,"t":"p"},{"n":4520,"r":1120,"t":"p"},{"n":4530,"r":1050,"t":"p"},{"n":4540,"r":1000,"t":"p"},{"n":4550,"r":965,"t":"p"},{"n":4560,"r":940,"t":"p"},{"n":4570,"r":915,"t":"p"},{"n":4580,"r":900,"t":"p"},{"n":4590,"r":885,"t":"p"},{"n":4600,"r":895,"t":"p"},{"n":4610,"r":870,"t":"p"},{"n":4620,"r":885,"t":"p"},{"n":4630,"r":860,"t":"p"},{"n":4640,"r":875,"t":"p"},{"n":4650,"r":850,"t":"p"},{"n":4660,"r":865,"t":"p"},{"n":4670,"r":845,"t":"p"},{"n":4680,"r":860,"t":"p"},{"n":4690,"r":840,"t":"p"},{"n":4700,"r":855,"t":"p"},{"n":4710,"r":835,"t":"p"},{"n":4720,"r":850,"t":"p"},{"n":4730,"r":830,"t":"p"},{"n":4740,"r":845,"t":"p"},{"n":4750,"r":825,"t":"p"},{"n":4760,"r":840,"t":"p"},{"n":4770,"r":815,"t":"p"},{"n":4780,"r":830,"t":"p"},{"n":4790,"r":810,"t":"p"},
{"n":4800,"r":1100,"t":"d"},{"n":4810,"r":1200,"t":"d"},{"n":4820,"r":1280,"t":"d"},{"n":4830,"r":1230,"t":"d"},{"n":4840,"r":1320,"t":"d"},{"n":4850,"r":1260,"t":"d"},{"n":4860,"r":1350,"t":"d"},{"n":4870,"r":1280,"t":"d"},{"n":4880,"r":1370,"t":"d"},{"n":4890,"r":1300,"t":"d"},{"n":4900,"r":1340,"t":"d"},{"n":4910,"r":1280,"t":"d"},{"n":4920,"r":1380,"t":"d"},{"n":4930,"r":1310,"t":"d"},{"n":4940,"r":1360,"t":"d"},{"n":4950,"r":1420,"t":"d"},{"n":4960,"r":1330,"t":"d"},{"n":4970,"r":1390,"t":"d"},{"n":4980,"r":1340,"t":"d"},{"n":4990,"r":1450,"t":"d"},{"n":5000,"r":1370,"t":"d"},{"n":5010,"r":1420,"t":"d"},{"n":5020,"r":1350,"t":"d"},{"n":5030,"r":1460,"t":"d"},{"n":5040,"r":1390,"t":"d"},{"n":5050,"r":1440,"t":"d"},{"n":5060,"r":1380,"t":"d"},{"n":5070,"r":1500,"t":"d"},{"n":5080,"r":1430,"t":"d"},{"n":5090,"r":1600,"t":"d"},
{"n":5100,"r":1440,"t":"p"},{"n":5110,"r":1330,"t":"p"},{"n":5120,"r":1200,"t":"p"},{"n":5130,"r":1100,"t":"p"},{"n":5140,"r":1040,"t":"p"},{"n":5150,"r":990,"t":"p"},{"n":5160,"r":960,"t":"p"},{"n":5170,"r":940,"t":"p"},{"n":5180,"r":920,"t":"p"},{"n":5190,"r":930,"t":"p"},{"n":5200,"r":905,"t":"p"},{"n":5210,"r":920,"t":"p"},{"n":5220,"r":895,"t":"p"},{"n":5230,"r":910,"t":"p"},{"n":5240,"r":885,"t":"p"},{"n":5250,"r":905,"t":"p"},{"n":5260,"r":880,"t":"p"},{"n":5270,"r":900,"t":"p"},{"n":5280,"r":875,"t":"p"},{"n":5290,"r":895,"t":"p"},{"n":5300,"r":880,"t":"p"},{"n":5310,"r":900,"t":"p"},{"n":5320,"r":870,"t":"p"},{"n":5330,"r":890,"t":"p"},{"n":5340,"r":875,"t":"p"},{"n":5350,"r":895,"t":"p"},{"n":5360,"r":870,"t":"p"},{"n":5370,"r":885,"t":"p"},{"n":5380,"r":870,"t":"p"},{"n":5390,"r":880,"t":"p"}
],
"bV":[
{"s":1,"n":0,"v":0.7,"t":"d"},{"s":1,"n":299,"v":0.7,"t":"d"},
{"s":2,"n":300,"v":-0.55,"t":"p"},{"s":2,"n":599,"v":-0.55,"t":"p"},
{"s":3,"n":600,"v":0.7,"t":"d"},{"s":3,"n":899,"v":0.7,"t":"d"},
{"s":4,"n":900,"v":-0.55,"t":"p"},{"s":4,"n":1199,"v":-0.55,"t":"p"},
{"s":5,"n":1200,"v":0.7,"t":"d"},{"s":5,"n":1499,"v":0.7,"t":"d"},
{"s":6,"n":1500,"v":-0.55,"t":"p"},{"s":6,"n":1799,"v":-0.55,"t":"p"},
{"s":7,"n":1800,"v":0.7,"t":"d"},{"s":7,"n":2099,"v":0.7,"t":"d"},
{"s":8,"n":2100,"v":-0.55,"t":"p"},{"s":8,"n":2399,"v":-0.55,"t":"p"},
{"s":9,"n":2400,"v":0.7,"t":"d"},{"s":9,"n":2699,"v":0.7,"t":"d"},
{"s":10,"n":2700,"v":-0.55,"t":"p"},{"s":10,"n":2999,"v":-0.55,"t":"p"},
{"s":11,"n":3000,"v":0.7,"t":"d"},{"s":11,"n":3299,"v":0.7,"t":"d"},
{"s":12,"n":3300,"v":-0.55,"t":"p"},{"s":12,"n":3599,"v":-0.55,"t":"p"},
{"s":13,"n":3600,"v":0.7,"t":"d"},{"s":13,"n":3899,"v":0.7,"t":"d"},
{"s":14,"n":3900,"v":-0.55,"t":"p"},{"s":14,"n":4199,"v":-0.55,"t":"p"},
{"s":15,"n":4200,"v":0.7,"t":"d"},{"s":15,"n":4499,"v":0.7,"t":"d"},
{"s":16,"n":4500,"v":-0.55,"t":"p"},{"s":16,"n":4799,"v":-0.55,"t":"p"},
{"s":17,"n":4800,"v":0.7,"t":"d"},{"s":17,"n":5099,"v":0.7,"t":"d"},
{"s":18,"n":5100,"v":-0.55,"t":"p"},{"s":18,"n":5399,"v":-0.55,"t":"p"}
]
},
"spacing":19,
"hconcat":[
{"vconcat":[
 {"width":370,"height":127,
  "title":{"text":"A","anchor":"start","frame":"group","dx":-73,"offset":10,"fontSize":17,"fontWeight":"bold","color":"#111","font":"Liberation Sans"},
  "data":{"name":"aR"},
  "encoding":{"x":{"field":"n","type":"quantitative","scale":{"domain":[-5,1050],"nice":false,"zero":false},"axis":{"values":[0,200,400,600,800,1000],"format":"d","title":null}},
   "y":{"field":"r","type":"quantitative","scale":{"type":"log","domain":[200,10000],"nice":false},"axis":{"values":[1000,10000],"labelExpr":"datum.value/1000+'k'","title":"Resistance [Ω]","titlePadding":14}}},
  "layer":[
   {"mark":{"type":"line","color":"#888","strokeWidth":0.7,"clip":true},"encoding":{"order":{"field":"n","type":"quantitative"}}},
   {"mark":{"type":"circle","size":42,"strokeWidth":0.8,"opacity":1,"clip":true},"encoding":{
     "fill":{"field":"t","type":"nominal","scale":{"domain":["d","p"],"range":["#3ccf8e","#e08a2e"]},"legend":null},
     "stroke":{"field":"t","type":"nominal","scale":{"domain":["d","p"],"range":["#0a3d1e","#5b3206"]},"legend":null}}}
  ]},
 {"width":370,"height":126,
  "data":{"name":"aV"},
  "mark":{"type":"square","size":30,"strokeWidth":0.6,"opacity":1,"clip":true},
  "encoding":{"x":{"field":"n","type":"quantitative","scale":{"domain":[-5,1050],"nice":false,"zero":false},"axis":{"values":[0,200,400,600,800,1000],"format":"d","title":"Spike Number","titlePadding":16}},
   "y":{"field":"v","type":"quantitative","scale":{"domain":[-1,1.5],"nice":false},"axis":{"values":[-1,0,1],"labelExpr":"replace(format(datum.value,'d'),'−','-')","title":"Amplitude [V]","titlePadding":24}},
   "fill":{"field":"t","type":"nominal","scale":{"domain":["d","p"],"range":["#3ccf8e","#e08a2e"]},"legend":null},
   "stroke":{"value":"#111"}}}
],"spacing":47,"bounds":"flush"},
{"vconcat":[
 {"width":743,"height":127,
  "title":{"text":"B","anchor":"start","frame":"group","dx":-65,"offset":10,"fontSize":17,"fontWeight":"bold","color":"#111","font":"Liberation Sans"},
  "data":{"name":"bR"},
  "encoding":{"x":{"field":"n","type":"quantitative","scale":{"domain":[-100,5500],"nice":false,"zero":false},"axis":{"values":[0,600,1200,1800,2400,3000,3600,4200,4800,5400],"labelExpr":"datum.value==0?'0.0':datum.value==600?'600.0':format(datum.value/1000,'.1f')+'k'","title":null,"labelFontSize":16}},
   "y":{"field":"r","type":"quantitative","scale":{"type":"log","domain":[800,2000],"nice":false},"axis":{"values":[1000,1500,2000],"labelExpr":"datum.value/1000+'k'","title":"Resistance [Ω]","titlePadding":8,"labelFontSize":16}}},
  "layer":[
   {"mark":{"type":"line","color":"#999","strokeWidth":0.6,"clip":true},"encoding":{"order":{"field":"n","type":"quantitative"}}},
   {"mark":{"type":"circle","size":34,"opacity":1,"clip":true},"encoding":{
     "color":{"field":"t","type":"nominal","scale":{"domain":["d","p"],"range":["#22e88a","#f7801a"]},"legend":null}}}
  ]},
 {"width":743,"height":126,
  "data":{"name":"bV"},
  "encoding":{"x":{"field":"n","type":"quantitative","scale":{"domain":[-100,5500],"nice":false,"zero":false},"axis":{"values":[0,600,1200,1800,2400,3000,3600,4200,4800,5400],"labelExpr":"datum.value==0?'0.0':datum.value==600?'600.0':format(datum.value/1000,'.1f')+'k'","title":"Spike Number","titlePadding":16,"labelFontSize":16}},
   "y":{"field":"v","type":"quantitative","scale":{"domain":[-0.65,0.8],"nice":false,"zero":false},"axis":{"values":[-0.4,0,0.4,0.8],"labelExpr":"replace(format(datum.value,'.1f'),'−','-')","title":"Amplitude [V]","titlePadding":8,"labelFontSize":16}}},
  "layer":[
   {"mark":{"type":"line","color":"#999","strokeWidth":0.8,"clip":true},"encoding":{"order":{"field":"n","type":"quantitative"}}},
   {"mark":{"type":"line","strokeWidth":6,"strokeCap":"square","clip":true},"encoding":{
     "detail":{"field":"s","type":"nominal"},
     "color":{"field":"t","type":"nominal","scale":{"domain":["d","p"],"range":["#22e88a","#f7801a"]},"legend":null}}}
  ]}
],"spacing":49,"bounds":"flush"}
]
}
